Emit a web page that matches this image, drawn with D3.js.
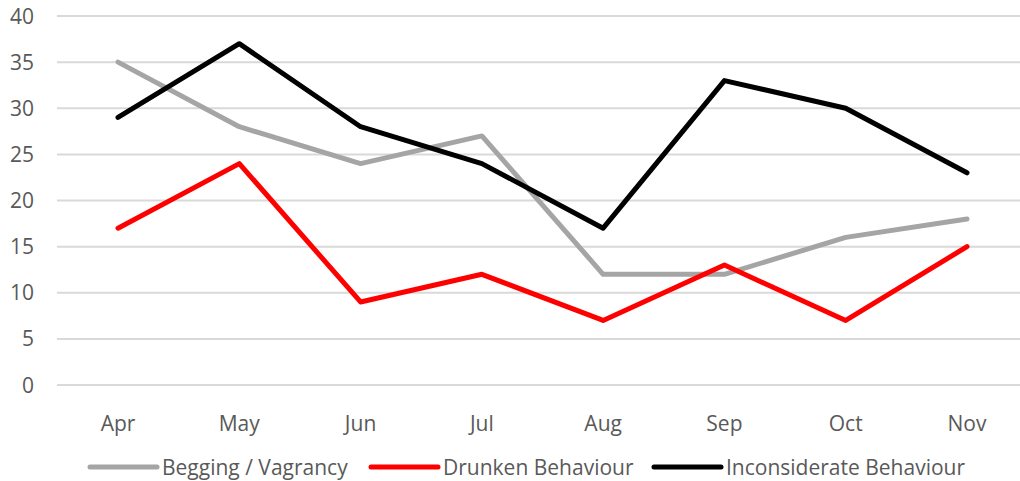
<!DOCTYPE html>
<html lang="en">
<head>
<meta charset="UTF-8">
<script src="https://d3js.org/d3.v7.min.js"></script>
<style>
    body { margin: 0; background: #fff; }
    text { font-family: "Open Sans", sans-serif; fill: #595959; }
    .grid line { stroke: #d9d9d9; stroke-width: 2px; }
</style>
</head>
<body>
<svg width="1020" height="481"></svg>
<script>
    const months = ["Apr", "May", "Jun", "Jul", "Aug", "Sep", "Oct", "Nov"];
    const begging = [35, 28, 24, 27, 12, 12, 16, 18];
    const drunken = [17, 24, 9, 12, 7, 13, 7, 15];
    const inconsiderate = [29, 37, 28, 24, 17, 33, 30, 23];
    const yTicks = [0, 5, 10, 15, 20, 25, 30, 35, 40];

    const series = [
        { name: "Begging / Vagrancy", values: begging, color: "#a5a5a5" },
        { name: "Drunken Behaviour", values: drunken, color: "#ff0000" },
        { name: "Inconsiderate Behaviour", values: inconsiderate, color: "#000000" }
    ];

    const svg = d3.select("svg");
    const x = d3.scalePoint().domain(months).range([118, 967]);
    const y = d3.scaleLinear().domain([0, 40]).range([385, 16]);

    // gridlines
    svg.append("g").attr("class", "grid")
        .selectAll("line").data(yTicks).enter().append("line")
        .attr("x1", 57).attr("x2", 1028)
        .attr("y1", d => y(d)).attr("y2", d => y(d));

    // y labels
    svg.append("g").selectAll("text").data(yTicks).enter().append("text")
        .attr("x", 34).attr("y", d => y(d))
        .attr("dy", "0.36em")
        .attr("text-anchor", "end")
        .attr("font-size", 21)
        .text(d => d);

    // x labels
    svg.append("g").selectAll("text").data(months).enter().append("text")
        .attr("x", d => x(d)).attr("y", 431)
        .attr("text-anchor", "middle")
        .attr("font-size", 21)
        .text(d => d);

    const line = d3.line()
        .x((d, i) => x(months[i]))
        .y(d => y(d));

    svg.append("g").selectAll("path").data(series).enter().append("path")
        .attr("d", d => line(d.values))
        .attr("fill", "none")
        .attr("stroke", d => d.color)
        .attr("stroke-width", 5)
        .attr("stroke-linejoin", "round")
        .attr("stroke-linecap", "round");

    // legend
    const legendX = [90, 371, 654];
    const lg = svg.append("g").selectAll("g").data(series).enter().append("g")
        .attr("transform", (d, i) => `translate(${legendX[i]},467)`);
    lg.append("line")
        .attr("x1", 0).attr("x2", 67)
        .attr("stroke", d => d.color)
        .attr("stroke-width", 5)
        .attr("stroke-linecap", "round");
    lg.append("text")
        .attr("x", 72).attr("dy", "0.36em")
        .attr("font-size", 21)
        .text(d => d.name);
</script>
</body>
</html>
